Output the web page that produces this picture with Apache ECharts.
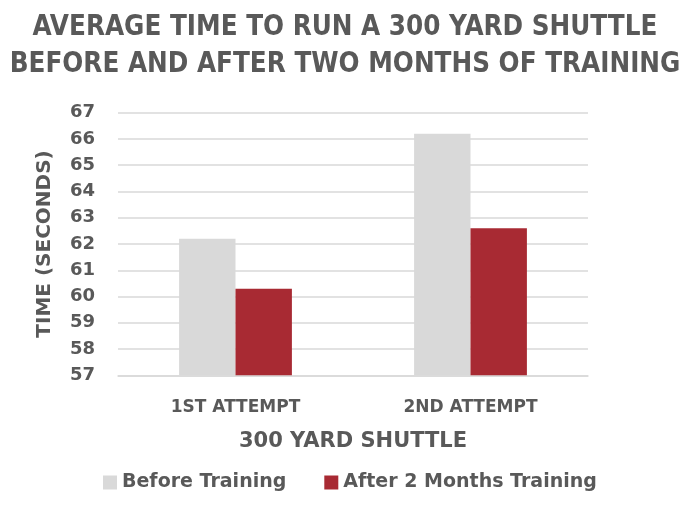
<!DOCTYPE html>
<html><head><meta charset="utf-8">
<script src="https://cdn.jsdelivr.net/npm/echarts@6/dist/echarts.min.js"></script>
<style>html,body{margin:0;padding:0;background:#fff}#c{width:690px;height:515px}</style>
</head><body><div id="c"></div>
<script>
const categories = ['1ST ATTEMPT', '2ND ATTEMPT'];
const beforeTraining = [62.2, 66.2];
const afterTraining = [60.3, 62.6];
const seriesNames = ['Before Training', 'After 2 Months Training'];
const yMin = 57, yMax = 67, yStep = 1;

const FONT_C = '"DejaVu Sans Condensed", "DejaVu Sans", sans-serif';
const FONT = '"DejaVu Sans", sans-serif';
const TXT = '#595959';
const chart = echarts.init(document.getElementById('c'), null, {renderer: 'canvas'});
chart.setOption({
  animation: false,
  backgroundColor: '#fff',
  title: {
    text: 'AVERAGE TIME TO RUN A 300 YARD SHUTTLE\nBEFORE AND AFTER TWO MONTHS OF TRAINING',
    left: 'center', top: 4,
    textStyle: {fontFamily: FONT_C, fontWeight: 'bold', fontSize: 27.5, color: TXT, lineHeight: 37}
  },
  legend: {
    bottom: 18, left: 98, itemWidth: 14, itemHeight: 14, itemGap: 38,
    icon: 'rect',
    textStyle: {fontFamily: FONT, fontWeight: 'bold', fontSize: 19, color: TXT},
    data: seriesNames
  },
  grid: {left: 118, right: 102, top: 112.7, bottom: 139.7},
  xAxis: {
    type: 'category', data: categories,
    name: '300 YARD SHUTTLE', nameLocation: 'middle', nameGap: 56,
    nameTextStyle: {fontFamily: FONT, fontWeight: 'bold', fontSize: 21, color: TXT},
    axisLine: {lineStyle: {color: '#d9d9d9', width: 1.5}},
    axisTick: {show: false},
    axisLabel: {fontFamily: FONT, fontWeight: 'bold', fontSize: 17, color: TXT, margin: 24}
  },
  yAxis: {
    type: 'value', min: yMin, max: yMax, interval: yStep,
    name: 'TIME (SECONDS)', nameLocation: 'middle', nameGap: 63, nameRotate: 90,
    nameTextStyle: {fontFamily: FONT, fontWeight: 'bold', fontSize: 20, color: TXT},
    axisLine: {show: false}, axisTick: {show: false},
    splitLine: {lineStyle: {color: '#d9d9d9', width: 1.5}},
    axisLabel: {fontFamily: FONT, fontWeight: 'bold', fontSize: 18, color: TXT, margin: 23}
  },
  series: [
    {name: seriesNames[0], type: 'bar', data: beforeTraining, barGap: '0%', barCategoryGap: '52%', itemStyle: {color: '#d9d9d9'}},
    {name: seriesNames[1], type: 'bar', data: afterTraining, barGap: '0%', barCategoryGap: '52%', itemStyle: {color: '#a82a33'}}
  ]
});
</script></body></html>
